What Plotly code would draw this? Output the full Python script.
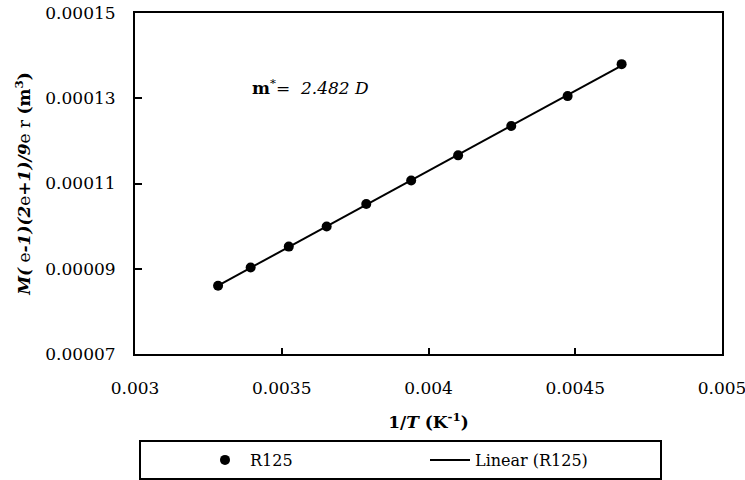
import numpy as np
import plotly.graph_objects as go

# Data
inv_T = [0.003283, 0.003394, 0.003524, 0.003653, 0.003788,
         0.003941, 0.004101, 0.004282, 0.004474, 0.004658]
y_vals = [0.0000860, 0.0000903, 0.0000952, 0.0000999, 0.0001052,
          0.0001107, 0.0001166, 0.0001235, 0.0001305, 0.0001380]

x_tickvals = [0.003, 0.0035, 0.004, 0.0045, 0.005]
x_ticktext = ["0.003", "0.0035", "0.004", "0.0045", "0.005"]
y_tickvals = [0.00007, 0.00009, 0.00011, 0.00013, 0.00015]
y_ticktext = ["0.00007", "0.00009", "0.00011", "0.00013", "0.00015"]

series_name = "R125"
fit_name = "Linear (R125)"
annot_text = "<b>m</b><sup>*</sup>= <i> 2.482 D</i>"

# linear trendline through the data
coef = np.polyfit(inv_T, y_vals, 1)
fit_x = [min(inv_T), max(inv_T)]
fit_y = [coef[0] * v + coef[1] for v in fit_x]

FONT = "DejaVu Serif"
W, H = 745, 480
ML, MR, MT, MB = 135, 23, 13, 126
PW, PH = W - ML - MR, H - MT - MB

def px_x(p):
    return (p - ML) / PW

def px_y(p):
    return (H - MB - p) / PH

fig = go.Figure()
fig.add_trace(go.Scatter(
    x=inv_T, y=y_vals, mode="markers", name=series_name,
    marker=dict(color="black", size=10, symbol="circle"),
))
fig.add_trace(go.Scatter(
    x=fit_x, y=fit_y, mode="lines", name=fit_name,
    line=dict(color="black", width=2),
))

fig.update_layout(
    width=W, height=H,
    margin=dict(l=ML, r=MR, t=MT, b=MB, pad=0, autoexpand=False),
    paper_bgcolor="white", plot_bgcolor="white",
    font=dict(family=FONT, size=17, color="black"),
    showlegend=True,
    legend=dict(
        orientation="h",
        xref="container", yref="container",
        x=200 / W, xanchor="left",
        y=1 - 460 / H, yanchor="middle",
        font=dict(family=FONT, size=16, color="black"),
        bgcolor="rgba(0,0,0,0)",
        entrywidth=170,
        itemwidth=40,
    ),
    xaxis=dict(
        range=[0.003, 0.005],
        tickvals=x_tickvals, ticktext=x_ticktext,
        ticks="inside", ticklen=6, tickwidth=2, tickcolor="black",
        showline=True, linecolor="black", linewidth=2, mirror=True,
        showgrid=False, zeroline=False, automargin=False,
        ticklabelstandoff=18, ticklabeloverflow="allow",
        tickfont=dict(family=FONT, size=17),
        title=dict(text="<b>1/<i>T</i> (K<sup>-1</sup>)</b>",
                   font=dict(family=FONT, size=17), standoff=19),
    ),
    yaxis=dict(
        range=[0.00007, 0.00015],
        tickvals=y_tickvals, ticktext=y_ticktext,
        ticks="inside", ticklen=7, tickwidth=2, tickcolor="black",
        showline=True, linecolor="black", linewidth=2, mirror=True,
        showgrid=False, zeroline=False, automargin=False,
        ticklabelstandoff=14,
        tickfont=dict(family=FONT, size=17),
        title=dict(text="<b><i>M(</i></b> e<b><i>-1)(2</i></b>e<b><i>+1)/9</i></b>e r <b>(m<sup>3</sup>)</b>",
                   font=dict(family=FONT, size=17), standoff=10),
    ),
    shapes=[dict(
        type="rect", xref="paper", yref="paper",
        x0=px_x(140), x1=px_x(661), y0=px_y(441), y1=px_y(479),
        line=dict(color="black", width=2), fillcolor="rgba(0,0,0,0)",
    )],
    annotations=[dict(
        text=annot_text, xref="paper", yref="paper",
        x=px_x(250), y=px_y(87), xanchor="left", yanchor="middle",
        showarrow=False, font=dict(family=FONT, size=17, color="black"),
    )],
)

fig.write_html("out.html")
